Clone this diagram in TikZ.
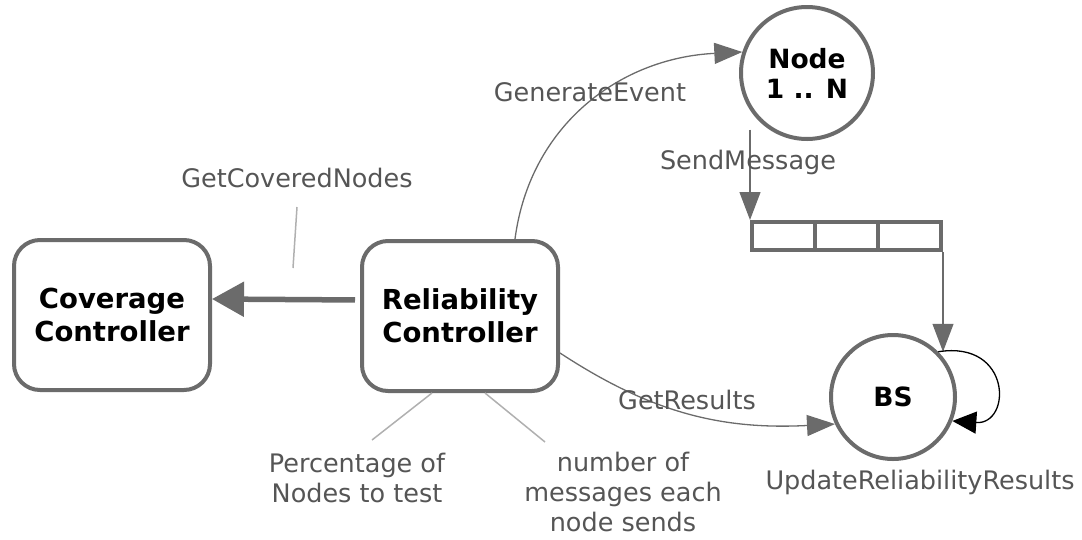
\documentclass[tikz,border=0pt]{standalone}
\usepackage{fontspec}
\setmainfont{DejaVu Sans}
\usepackage{xcolor}
\usepackage{tikz}
\usetikzlibrary{arrows.meta}
\usetikzlibrary{positioning}
\definecolor{edgegray}{HTML}{6B6B6B}
\definecolor{textgray}{HTML}{555555}
\definecolor{notegray}{HTML}{B0B0B0}

\begin{document}
\begin{tikzpicture}[x=1pt,y=-1pt,
    ctrl/.style={draw=edgegray, line width=4pt, rounded corners=26pt, minimum width=196pt, minimum height=150pt, align=center, font=\bfseries\fontsize{27.5}{33}\selectfont},
    actor/.style={draw=edgegray, line width=4pt, circle, align=center, font=\bfseries\fontsize{26.5}{30}\selectfont},
    cell/.style={draw=edgegray, line width=4pt, minimum width=63pt, minimum height=28pt, inner sep=0pt},
    lbl/.style={text=textgray, align=center, font=\fontsize{25.5}{30}\selectfont},
    msg/.style={draw=edgegray, line width=1.3pt, -{Triangle[length=28pt,width=21pt]}}]
    \useasboundingbox (0,0) rectangle (1082,539);
    \node[ctrl] (cov) at (112,315) {Coverage\\Controller};
    \node[ctrl] (rel) at (460,316) {Reliability\\Controller};
    \node[actor, minimum size=132pt] (nodes) at (807,73) {Node\\1 .. N};
    \node[actor, minimum size=124pt] (bs) at (893,397) {BS};
    \foreach \i in {1,2,3}
        \node[cell] (q\i) at ({783.5+63*(\i-1)},236) {};
    \draw[draw=edgegray, line width=5.5pt, -{Triangle[length=32pt,width=34pt]}, shorten <=5pt] ([yshift=16pt]rel.west) -- ([yshift=16pt]cov.east);
    \node[lbl] (gcn) at (297,178) {GetCoveredNodes};
    \coordinate (gcnend) at (293,268);
    \draw[notegray, line width=1.5pt] ([yshift=-29pt]gcn.center) -- (gcnend);
    \draw[msg] ([xshift=55pt]rel.north) .. controls (530,125) and (620,58) .. (nodes.162);
    \node[lbl] (ge) at (590,92) {GenerateEvent};
    \coordinate (smtop) at (nodes.232 -| q1.north west);
    \draw[msg] ([yshift=-3pt]smtop) -- (q1.north west);
    \node[lbl] (sm) at (748,162) {SendMessage};
    \draw[msg] (q3.south east) -- (q3.south east |- bs.45);
    \draw[draw=black, line width=1.3pt, -{Triangle[length=24pt,width=22pt]}] (bs.45) .. controls (1012,340) and (1012,425) .. (bs.-22);
    \draw[msg] ([yshift=-37pt]rel.east) .. controls (650,412) and (720,430) .. (bs.205);
    \node[lbl] (gr) at (687,400) {GetResults};
    \node[lbl] (upd) at (920,482) {UpdateReliabilityResults};
    \node[lbl] (pct) at (357,478) {Percentage of\\Nodes to test};
    \node[lbl] (num) at (623,492) {number of\\messages each\\node sends};
    \draw[notegray, line width=1.5pt] ([xshift=-28pt]rel.south) -- (372,440);
    \draw[notegray, line width=1.5pt] ([xshift=25pt]rel.south) -- (545,442);
\end{tikzpicture}
\end{document}
